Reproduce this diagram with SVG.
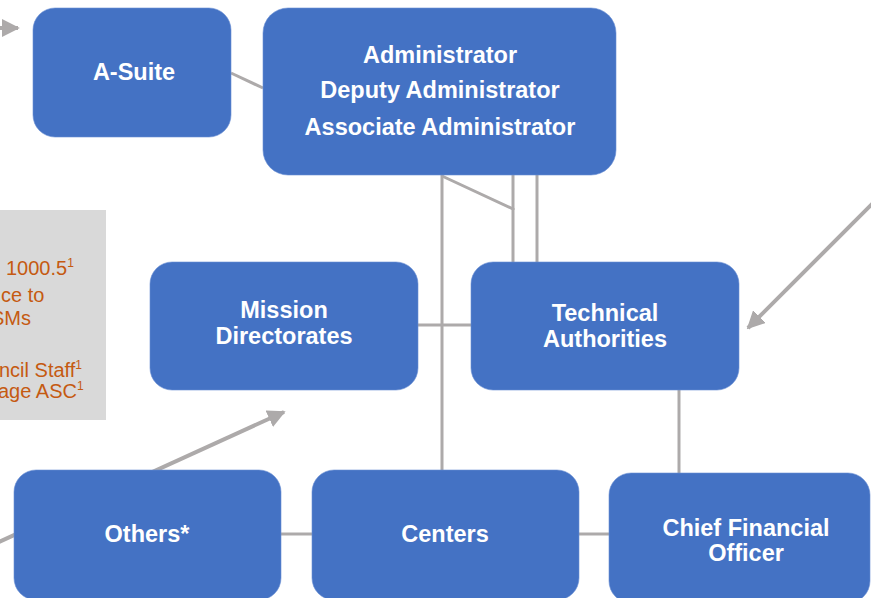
<svg xmlns="http://www.w3.org/2000/svg" width="871" height="598" viewBox="0 0 871 598">
<defs>
<style>
.node{fill:#4472C4;stroke:#6A8FD3;stroke-width:0.6}
.lbl{font-family:"Liberation Sans",Arial,sans-serif;font-weight:bold;font-size:23.5px;fill:#fff;text-anchor:middle}
.conn{stroke:#ADAAAA;stroke-width:3;fill:none}
.arr{stroke:#ADAAAA;stroke-width:4;fill:none}
.note{font-family:"Liberation Sans",Arial,sans-serif;font-size:20px;fill:#C55A11}
.sup{font-size:12px}
</style>
<marker id="ah" viewBox="0 0 10 10" refX="9" refY="5" markerWidth="4.5" markerHeight="4.5" markerUnits="strokeWidth" orient="auto">
<path d="M0,0 L10,5 L0,10 Z" fill="#ADAAAA"/>
</marker>
</defs>
<rect width="871" height="598" fill="#fff"/>
<g id="note-box">
<rect x="-2" y="210" width="108" height="210" fill="#D9D9D9"/>
<text class="note" x="6" y="275">1000.5<tspan class="sup" dy="-8">1</tspan></text>
<text class="note" x="1" y="302">ce to</text>
<text class="note" x="-9" y="325">SMs</text>
<text class="note" x="-1" y="377">ncil Staff<tspan class="sup" dy="-8">1</tspan></text>
<text class="note" x="-2" y="398">age ASC<tspan class="sup" dy="-8">1</tspan></text>
</g>
<g id="connectors">
<line class="conn" x1="231" y1="73" x2="263" y2="88"/>
<line class="conn" x1="442" y1="175" x2="442" y2="470"/>
<polyline class="conn" points="442,176 513,209 513,262"/>
<line class="conn" x1="513" y1="175" x2="513" y2="210"/>
<line class="conn" x1="537" y1="175" x2="537" y2="262"/>
<line class="conn" x1="418" y1="325" x2="471" y2="325"/>
<line class="conn" x1="679" y1="390" x2="679" y2="473"/>
<line class="conn" x1="281" y1="534" x2="312" y2="534"/>
<line class="conn" x1="579" y1="534" x2="609" y2="534"/>
<line class="arr" x1="-20" y1="28" x2="18" y2="28" marker-end="url(#ah)"/>
<line class="arr" x1="880" y1="196" x2="748" y2="328" marker-end="url(#ah)"/>
<line class="arr" x1="-10" y1="546" x2="284" y2="412" marker-end="url(#ah)"/>
</g>
<g id="a-suite">
<rect class="node" x="33" y="8" width="198" height="129" rx="22"/>
<text class="lbl" x="134" y="80">A-Suite</text>
</g>
<g id="administrator">
<rect class="node" x="263" y="8" width="353" height="167" rx="25"/>
<text class="lbl" x="440" y="63">Administrator</text>
<text class="lbl" x="440" y="98">Deputy Administrator</text>
<text class="lbl" x="440" y="135">Associate Administrator</text>
</g>
<g id="mission-directorates">
<rect class="node" x="150" y="262" width="268" height="128" rx="22"/>
<text class="lbl" x="284" y="318">Mission</text>
<text class="lbl" x="284" y="344">Directorates</text>
</g>
<g id="technical-authorities">
<rect class="node" x="471" y="262" width="268" height="128" rx="22"/>
<text class="lbl" x="605" y="321">Technical</text>
<text class="lbl" x="605" y="347">Authorities</text>
</g>
<g id="others">
<rect class="node" x="14" y="470" width="267" height="130" rx="22"/>
<text class="lbl" x="147" y="542">Others*</text>
</g>
<g id="centers">
<rect class="node" x="312" y="470" width="267" height="130" rx="22"/>
<text class="lbl" x="445" y="542">Centers</text>
</g>
<g id="cfo">
<rect class="node" x="609" y="473" width="261" height="130" rx="22"/>
<text class="lbl" x="746" y="536">Chief Financial</text>
<text class="lbl" x="746" y="561">Officer</text>
</g>
</svg>
